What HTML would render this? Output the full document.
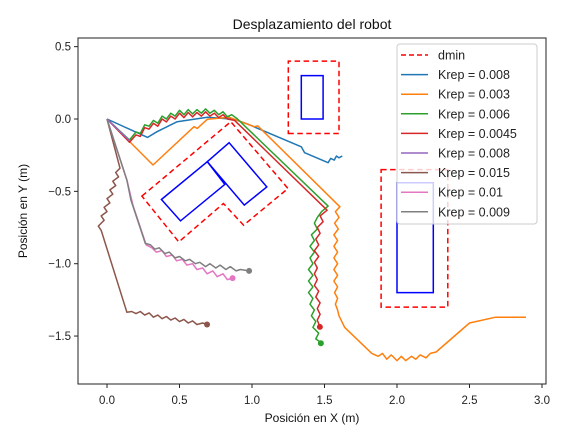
<!DOCTYPE html>
<html><head><meta charset="utf-8"><style>
body{margin:0;background:#fff;}
svg{display:block;font-family:"Liberation Sans","DejaVu Sans",sans-serif;}
</style></head><body>
<svg id="chart" width="575" height="440" xmlns="http://www.w3.org/2000/svg">
<rect width="575" height="440" fill="#fff"/>
<g id="plot"></g>
<rect x="78" y="38" width="468" height="346" fill="none" stroke="#222" stroke-width="1"/>
<g id="xticks"></g>
<g id="yticks"></g>
<text x="312" y="29" text-anchor="middle" font-size="14" fill="#111">Desplazamiento del robot</text>
<text x="312" y="422" text-anchor="middle" font-size="12" fill="#111">Posición en X (m)</text>
<text transform="translate(27,211) rotate(-90)" text-anchor="middle" font-size="12" fill="#111">Posición en Y (m)</text>
<g id="legend"></g>
</svg>
<script>
const xTicks=[0.0,0.5,1.0,1.5,2.0,2.5,3.0];
const yTicks=[0.5,0.0,-0.5,-1.0,-1.5];
const obstacleSmall=[[1.34,0],[1.49,0],[1.49,0.3],[1.34,0.3]];
const dminSmall=[[1.25,-0.1],[1.6,-0.1],[1.6,0.4],[1.25,0.4]];
const obstacleTall=[[2.0,-0.44],[2.25,-0.44],[2.25,-1.2],[2.0,-1.2]];
const dminTall=[[1.89,-0.35],[2.35,-0.35],[2.35,-1.3],[1.89,-1.3]];
const obstacleL1=[[0.375,-0.556],[0.692,-0.295],[0.8125,-0.452],[0.507,-0.704]];
const obstacleL2=[[0.692,-0.295],[0.842,-0.164],[1.102,-0.469],[0.947,-0.595]];
const dminL=[[0.241,-0.533],[0.854,-0.019],[1.248,-0.48],[0.942,-0.734],[0.803,-0.584],[0.495,-0.849]];
const seriesLabels=["Krep = 0.008","Krep = 0.003","Krep = 0.006","Krep = 0.0045","Krep = 0.008","Krep = 0.015","Krep = 0.01","Krep = 0.009"];
const seriesColors=["#1f77b4","#ff7f0e","#2ca02c","#d62728","#9467bd","#8c564b","#e377c2","#7f7f7f"];
const blue=[[0,0],[0.28,-0.127],[0.345,-0.088],[0.484,-0.019],[0.692,0.012],[0.877,-0.002],[0.97,-0.035],[1.34,-0.192],[1.363,-0.233],[1.525,-0.302],[1.543,-0.272],[1.567,-0.284],[1.583,-0.256],[1.599,-0.268],[1.623,-0.256]];
const orange=[[0,0],[0.317,-0.318],[0.6,-0.053],[0.623,-0.065],[0.692,-0.002],[0.843,0.012],[1.016,-0.053],[1.04,-0.048],[1.606,-0.607],[1.575,-0.64],[1.6,-0.68],[1.57,-0.72],[1.595,-0.76],[1.565,-0.8],[1.59,-0.84],[1.565,-0.88],[1.59,-0.92],[1.565,-0.96],[1.59,-1.0],[1.565,-1.04],[1.59,-1.08],[1.565,-1.12],[1.59,-1.16],[1.57,-1.2],[1.59,-1.24],[1.575,-1.28],[1.59,-1.32],[1.6,-1.36],[1.639,-1.44],[1.826,-1.62],[1.87,-1.64],[1.9,-1.62],[1.93,-1.66],[1.96,-1.63],[2.0,-1.67],[2.03,-1.64],[2.06,-1.67],[2.1,-1.64],[2.13,-1.66],[2.16,-1.63],[2.2,-1.65],[2.23,-1.62],[2.27,-1.61],[2.5,-1.41],[2.68,-1.37],[2.89,-1.37]];
const green=[[0,0],[0.155,-0.145],[0.2,-0.09],[0.23,-0.1],[0.26,-0.04],[0.29,-0.05],[0.32,-0.01],[0.35,-0.03],[0.38,0.02],[0.41,0.0],[0.44,0.04],[0.47,0.02],[0.5,0.06],[0.53,0.03],[0.56,0.065],[0.59,0.035],[0.62,0.065],[0.65,0.04],[0.68,0.07],[0.71,0.04],[0.74,0.06],[0.77,0.03],[0.8,0.05],[0.83,0.015],[0.86,0.03],[0.9,0.0],[1.525,-0.602],[1.48,-0.64],[1.45,-0.68],[1.43,-0.72],[1.45,-0.76],[1.41,-0.8],[1.43,-0.84],[1.4,-0.88],[1.43,-0.92],[1.4,-0.96],[1.42,-1.0],[1.39,-1.04],[1.42,-1.08],[1.39,-1.12],[1.42,-1.16],[1.39,-1.2],[1.42,-1.24],[1.4,-1.28],[1.43,-1.32],[1.41,-1.36],[1.44,-1.4],[1.42,-1.44],[1.46,-1.48],[1.44,-1.52],[1.468,-1.54],[1.475,-1.55]];
const red=[[0,0],[0.155,-0.16],[0.2,-0.11],[0.23,-0.12],[0.26,-0.06],[0.29,-0.07],[0.32,-0.03],[0.35,-0.05],[0.38,0.0],[0.41,-0.02],[0.44,0.02],[0.47,0.0],[0.5,0.04],[0.53,0.01],[0.56,0.045],[0.59,0.015],[0.62,0.045],[0.65,0.02],[0.68,0.05],[0.71,0.02],[0.74,0.04],[0.77,0.01],[0.8,0.03],[0.83,0.0],[0.88,-0.01],[1.518,-0.63],[1.47,-0.67],[1.49,-0.71],[1.45,-0.75],[1.47,-0.79],[1.44,-0.83],[1.46,-0.87],[1.43,-0.91],[1.46,-0.95],[1.43,-0.99],[1.45,-1.03],[1.43,-1.07],[1.45,-1.11],[1.43,-1.15],[1.46,-1.19],[1.44,-1.23],[1.47,-1.27],[1.45,-1.31],[1.47,-1.35],[1.45,-1.39],[1.468,-1.437]];
const purple=[[0,0],[0.155,-0.15]];
const brown=[[0,0],[0.09,-0.34],[0.06,-0.37],[0.08,-0.40],[0.04,-0.43],[0.06,-0.46],[0.02,-0.49],[0.04,-0.52],[0.0,-0.55],[0.02,-0.58],[-0.02,-0.61],[0.0,-0.64],[-0.04,-0.67],[-0.02,-0.7],[-0.06,-0.74],[-0.04,-0.77],[0.137,-1.336],[0.17,-1.33],[0.2,-1.345],[0.23,-1.33],[0.26,-1.355],[0.29,-1.34],[0.32,-1.37],[0.35,-1.355],[0.38,-1.38],[0.41,-1.365],[0.44,-1.39],[0.47,-1.375],[0.5,-1.4],[0.53,-1.385],[0.56,-1.41],[0.59,-1.395],[0.62,-1.42],[0.66,-1.41],[0.69,-1.42]];
const pink=[[0,0],[0.137,-0.422],[0.18,-0.6],[0.27,-0.87],[0.31,-0.89],[0.34,-0.92],[0.38,-0.91],[0.41,-0.95],[0.45,-0.94],[0.48,-0.98],[0.52,-0.97],[0.55,-1.01],[0.59,-1.0],[0.62,-1.04],[0.66,-1.03],[0.69,-1.07],[0.73,-1.05],[0.76,-1.09],[0.8,-1.07],[0.83,-1.11],[0.866,-1.1]];
const gray=[[0,0],[0.137,-0.422],[0.165,-0.56],[0.264,-0.86],[0.3,-0.87],[0.33,-0.9],[0.36,-0.89],[0.4,-0.93],[0.43,-0.92],[0.47,-0.96],[0.5,-0.95],[0.54,-0.98],[0.57,-0.97],[0.61,-1.0],[0.64,-0.99],[0.68,-1.02],[0.71,-1.0],[0.75,-1.03],[0.78,-1.01],[0.82,-1.04],[0.85,-1.02],[0.89,-1.05],[0.92,-1.04],[0.98,-1.05]];

const NS="http://www.w3.org/2000/svg";
const sx=v=>107+v*145;
const sy=v=>119-v*144.7;
const plot=document.getElementById('plot');
function mk(tag,attrs,parent){const e=document.createElementNS(NS,tag);for(const k in attrs)e.setAttribute(k,attrs[k]);parent.appendChild(e);return e;}
function pts(a){return a.map(p=>sx(p[0]).toFixed(1)+','+sy(p[1]).toFixed(1)).join(' ');}
function poly(a,stroke,dash,name){
  const e=mk('polygon',{points:pts(a),fill:'none',stroke:stroke,'stroke-width':1.5},plot);
  if(dash)e.setAttribute('stroke-dasharray','5.5,3.5');
  
  
}
poly(dminSmall,'#ff0000',true,'dmin-small-obstacle');
poly(dminTall,'#ff0000',true,'dmin-tall-obstacle');
poly(dminL,'#ff0000',true,'dmin-l-obstacle');
poly(obstacleSmall,'#0000ff',false,'obstacle-small');
poly(obstacleTall,'#0000ff',false,'obstacle-tall');
poly(obstacleL1,'#0000ff',false,'obstacle-l-part1');
poly(obstacleL2,'#0000ff',false,'obstacle-l-part2');
const allSeries=[blue,orange,green,red,purple,brown,pink,gray];
allSeries.forEach((s,i)=>{
  const l=mk('polyline',{points:pts(s),fill:'none',stroke:seriesColors[i],'stroke-width':1.5,'stroke-linejoin':'round'},plot);
  
  
  const last=s[s.length-1];
  if(i!==0&&i!==1&&i!==4){
    const c=mk('circle',{cx:sx(last[0]),cy:sy(last[1]),r:3,fill:seriesColors[i]},plot);
    
    
  }
});
const xg=document.getElementById('xticks');
xTicks.forEach(t=>{
  const ln=mk('line',{x1:sx(t),x2:sx(t),y1:384,y2:388,stroke:'#222'},xg);
  
  
  const tx=mk('text',{x:sx(t),y:404,'text-anchor':'middle','font-size':11.5,fill:'#222'},xg);
  tx.textContent=t.toFixed(1);
  
  
});
const yg=document.getElementById('yticks');
yTicks.forEach(t=>{
  const ln=mk('line',{x1:74,x2:78,y1:sy(t),y2:sy(t),stroke:'#222'},yg);
  
  
  const tx=mk('text',{x:71,y:sy(t)+4,'text-anchor':'end','font-size':11.5,fill:'#222'},yg);
  tx.textContent=(t<0?'\u2212':'')+Math.abs(t).toFixed(1);
  
  
});
const lg=document.getElementById('legend');
const box=mk('rect',{x:397,y:44,width:140,height:180,rx:3,fill:'#fff','fill-opacity':0.8,stroke:'#ccc'},lg);


const names=['dmin'].concat(seriesLabels);
const cols=['#ff0000'].concat(seriesColors);
names.forEach((n,i)=>{
  const y=55+i*19.6;
  const l=mk('line',{x1:401,x2:428,y1:y,y2:y,stroke:cols[i],'stroke-width':1.5},lg);
  if(i===0)l.setAttribute('stroke-dasharray','5,3');
  
  
  const t=mk('text',{x:438,y:y+4.5,'font-size':12.5,fill:'#222'},lg);
  t.textContent=n;
  
  
});
</script>
</body></html>
